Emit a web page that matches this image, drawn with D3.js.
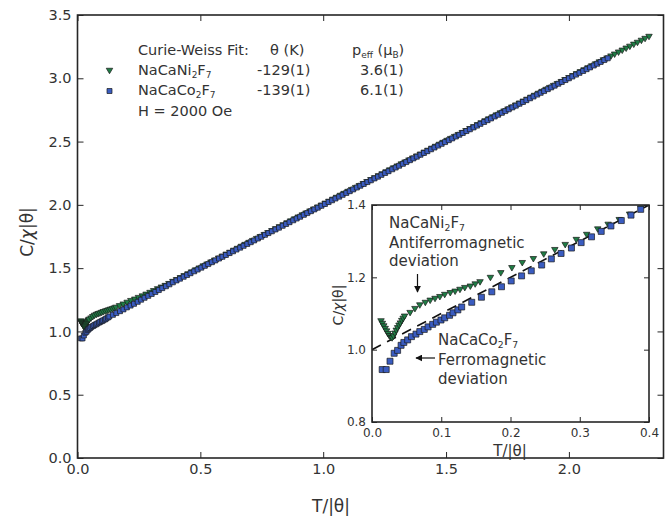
<!DOCTYPE html>
<html>
<head>
<meta charset="utf-8">
<script src="https://cdn.jsdelivr.net/npm/d3@7"></script>
<style>
  body { margin: 0; background: #fff; }
  svg text { font-family: "DejaVu Sans", sans-serif; fill: #333; }
</style>
</head>
<body>
<svg id="chart" width="671" height="521"></svg>
<script>
// NaCaNi2F7: reduced inverse susceptibility C/(chi|theta|) against T/|theta|
const niData = [
  [0.013,1.078],[0.015,1.071],[0.017,1.064],[0.019,1.057],[0.021,1.050],[0.023,1.043],[0.025,1.037],[0.027,1.032],
  [0.029,1.031],[0.031,1.036],[0.033,1.044],[0.035,1.052],[0.037,1.059],[0.039,1.066],[0.041,1.072],[0.043,1.079],
  [0.045,1.085],[0.047,1.091],[0.055,1.101],[0.062,1.112],[0.069,1.122],[0.077,1.129],[0.084,1.135],[0.091,1.140],
  [0.098,1.145],[0.105,1.151],[0.113,1.156],[0.120,1.160],[0.127,1.165],[0.134,1.170],[0.142,1.174],[0.149,1.180],
  [0.156,1.186],[0.171,1.198],[0.186,1.211],[0.202,1.225],[0.217,1.239],[0.233,1.250],[0.248,1.263],[0.264,1.275],
  [0.279,1.289],[0.295,1.303],[0.310,1.317],[0.326,1.332],[0.341,1.345],[0.357,1.358],[0.372,1.373],[0.388,1.390],
  [0.403,1.404],[0.419,1.420],[0.434,1.435],[0.450,1.450],[0.465,1.465],[0.481,1.481],[0.496,1.496],[0.512,1.512],
  [0.527,1.527],[0.543,1.543],[0.558,1.558],[0.574,1.574],[0.589,1.589],[0.605,1.605],[0.620,1.620],[0.636,1.636],
  [0.651,1.651],[0.667,1.667],[0.682,1.682],[0.698,1.698],[0.713,1.713],[0.729,1.729],[0.744,1.744],[0.760,1.760],
  [0.775,1.775],[0.791,1.791],[0.806,1.806],[0.822,1.822],[0.837,1.837],[0.853,1.853],[0.868,1.868],[0.884,1.884],
  [0.899,1.899],[0.915,1.915],[0.930,1.930],[0.946,1.946],[0.961,1.961],[0.977,1.977],[0.992,1.992],[1.008,2.008],
  [1.023,2.023],[1.039,2.039],[1.054,2.054],[1.070,2.070],[1.085,2.085],[1.101,2.101],[1.116,2.116],[1.132,2.132],
  [1.147,2.147],[1.163,2.163],[1.178,2.178],[1.194,2.194],[1.209,2.209],[1.225,2.225],[1.240,2.240],[1.256,2.256],
  [1.271,2.271],[1.287,2.287],[1.302,2.302],[1.318,2.318],[1.333,2.333],[1.349,2.349],[1.364,2.364],[1.380,2.380],
  [1.395,2.395],[1.411,2.411],[1.426,2.426],[1.442,2.442],[1.457,2.457],[1.473,2.473],[1.488,2.488],[1.504,2.504],
  [1.519,2.519],[1.535,2.535],[1.550,2.550],[1.566,2.566],[1.581,2.581],[1.597,2.597],[1.612,2.612],[1.628,2.628],
  [1.643,2.643],[1.659,2.659],[1.674,2.674],[1.690,2.690],[1.705,2.705],[1.721,2.721],[1.736,2.736],[1.752,2.752],
  [1.767,2.767],[1.783,2.783],[1.798,2.798],[1.814,2.814],[1.829,2.829],[1.845,2.845],[1.860,2.860],[1.876,2.876],
  [1.891,2.891],[1.907,2.907],[1.922,2.922],[1.938,2.938],[1.953,2.953],[1.969,2.969],[1.984,2.984],[2.000,3.000],
  [2.016,3.016],[2.031,3.031],[2.047,3.047],[2.062,3.062],[2.078,3.078],[2.093,3.093],[2.109,3.109],[2.124,3.124],
  [2.140,3.140],[2.155,3.155],[2.171,3.171],[2.186,3.186],[2.202,3.202],[2.217,3.217],[2.233,3.233],[2.248,3.248],
  [2.264,3.264],[2.279,3.279],[2.295,3.295],[2.310,3.310],[2.326,3.326]
];

// NaCaCo2F7
const coData = [
  [0.0147,0.945],[0.0205,0.945],[0.026,0.968],[0.032,0.990],[0.037,0.998],[0.042,1.012],[0.046,1.020],[0.0515,1.027],
  [0.057,1.036],[0.0635,1.043],[0.069,1.050],[0.0755,1.056],[0.081,1.063],[0.0876,1.070],[0.093,1.076],[0.0996,1.082],
  [0.105,1.088],[0.112,1.095],[0.117,1.102],[0.124,1.110],[0.1295,1.118],
  [0.144,1.131],[0.158,1.145],[0.173,1.160],[0.187,1.174],[0.201,1.190],[0.216,1.204],[0.230,1.218],[0.245,1.234],
  [0.259,1.251],[0.273,1.266],[0.288,1.281],[0.302,1.296],[0.317,1.312],[0.331,1.327],[0.345,1.342],[0.360,1.357],
  [0.374,1.372],[0.388,1.388],[0.403,1.403],[0.417,1.417],[0.432,1.432],[0.446,1.446],[0.460,1.460],[0.475,1.475],
  [0.489,1.489],[0.504,1.504],[0.518,1.518],[0.532,1.532],[0.547,1.547],[0.561,1.561],[0.576,1.576],[0.590,1.590],
  [0.604,1.604],[0.619,1.619],[0.633,1.633],[0.647,1.647],[0.662,1.662],[0.676,1.676],[0.691,1.691],[0.705,1.705],
  [0.719,1.719],[0.734,1.734],[0.748,1.748],[0.763,1.763],[0.777,1.777],[0.791,1.791],[0.806,1.806],[0.820,1.820],
  [0.835,1.835],[0.849,1.849],[0.863,1.863],[0.878,1.878],[0.892,1.892],[0.906,1.906],[0.921,1.921],[0.935,1.935],
  [0.950,1.950],[0.964,1.964],[0.978,1.978],[0.993,1.993],[1.007,2.007],[1.022,2.022],[1.036,2.036],[1.050,2.050],
  [1.065,2.065],[1.079,2.079],[1.094,2.094],[1.108,2.108],[1.122,2.122],[1.137,2.137],[1.151,2.151],[1.165,2.165],
  [1.180,2.180],[1.194,2.194],[1.209,2.209],[1.223,2.223],[1.237,2.237],[1.252,2.252],[1.266,2.266],[1.281,2.281],
  [1.295,2.295],[1.309,2.309],[1.324,2.324],[1.338,2.338],[1.353,2.353],[1.367,2.367],[1.381,2.381],[1.396,2.396],
  [1.410,2.410],[1.424,2.424],[1.439,2.439],[1.453,2.453],[1.468,2.468],[1.482,2.482],[1.496,2.496],[1.511,2.511],
  [1.525,2.525],[1.540,2.540],[1.554,2.554],[1.568,2.568],[1.583,2.583],[1.597,2.597],[1.612,2.612],[1.626,2.626],
  [1.640,2.640],[1.655,2.655],[1.669,2.669],[1.683,2.683],[1.698,2.698],[1.712,2.712],[1.727,2.727],[1.741,2.741],
  [1.755,2.755],[1.770,2.770],[1.784,2.784],[1.799,2.799],[1.813,2.813],[1.827,2.827],[1.842,2.842],[1.856,2.856],
  [1.871,2.871],[1.885,2.885],[1.899,2.899],[1.914,2.914],[1.928,2.928],[1.942,2.942],[1.957,2.957],[1.971,2.971],
  [1.986,2.986],[2.000,3.000],[2.014,3.014],[2.029,3.029],[2.043,3.043],[2.058,3.058],[2.072,3.072],[2.086,3.086],
  [2.101,3.101],[2.115,3.115],[2.129,3.129],[2.144,3.144],[2.158,3.158]
];

// Curie-Weiss law C/(chi|theta|) = T/|theta| + 1, drawn as a dashed guide in the inset
const cwFit = [[0, 1.0], [0.4, 1.4]];

const mainXTicks = [0, 0.5, 1.0, 1.5, 2.0];
const mainYTicks = [0, 0.5, 1.0, 1.5, 2.0, 2.5, 3.0, 3.5];
const insetXTicks = [0, 0.1, 0.2, 0.3, 0.4];
const insetYTicks = [0.8, 1.0, 1.2, 1.4];

const fitThetas = ["-129(1)", "-139(1)"];
const fitMoments = ["3.6(1)", "6.1(1)"];

const NI_FILL = "#1f7d45", CO_FILL = "#3a5cc0", EDGE = "#1a1a1a", INK = "#262626";

const svg = d3.select("#chart");

const x = d3.scaleLinear().domain([0, 2.385]).range([77.5, 663.5]);
const y = d3.scaleLinear().domain([0, 3.5]).range([458, 15]);
const xi = d3.scaleLinear().domain([0, 0.4]).range([372, 649]);
const yi = d3.scaleLinear().domain([0.8, 1.4]).range([422, 205]);

const defs = svg.append("defs");
defs.append("clipPath").attr("id", "clipMain").append("rect")
  .attr("x", x(0)).attr("y", y(3.5)).attr("width", x(2.385) - x(0)).attr("height", y(0) - y(3.5));
defs.append("clipPath").attr("id", "clipInset").append("rect")
  .attr("x", xi(0)).attr("y", yi(1.4)).attr("width", xi(0.4) - xi(0)).attr("height", yi(0.8) - yi(1.4));
defs.append("marker").attr("id", "head").attr("viewBox", "0 0 10 10")
  .attr("refX", 9).attr("refY", 5).attr("markerWidth", 7).attr("markerHeight", 7)
  .attr("markerUnits", "userSpaceOnUse").attr("orient", "auto")
  .append("path").attr("d", "M0,0L10,5L0,10Z").attr("fill", "#111");

// marker shapes: down-pointing triangle and square
const tri = (w, h) => `M${-w / 2},${-h / 2}L${w / 2},${-h / 2}L0,${h / 2}Z`;
const sq = s => `M${-s / 2},${-s / 2}h${s}v${s}h${-s}Z`;

function drawSeries(g, data, sx, sy, shape, fill) {
  g.selectAll(null).data(data).enter().append("path")
    .attr("d", shape)
    .attr("transform", d => `translate(${sx(d[0])},${sy(d[1])})`)
    .attr("fill", fill).attr("stroke", EDGE).attr("stroke-width", 0.7);
}

function frame(g, sx, sy, xt, yt, tick, fs, fmtX, fmtY) {
  const [x0, x1] = sx.range(), [y0, y1] = sy.range();
  const bottom = g.append("g").attr("transform", `translate(0,${y0})`)
    .call(d3.axisBottom(sx).tickValues(xt).tickSize(-tick).tickPadding(6).tickFormat(fmtX));
  const left = g.append("g").attr("transform", `translate(${x0},0)`)
    .call(d3.axisLeft(sy).tickValues(yt).tickSize(-tick).tickPadding(6).tickFormat(fmtY));
  const top = g.append("g").attr("transform", `translate(0,${y1})`)
    .call(d3.axisTop(sx).tickValues(xt).tickSize(-tick).tickFormat(""));
  const right = g.append("g").attr("transform", `translate(${x1},0)`)
    .call(d3.axisRight(sy).tickValues(yt).tickSize(-tick).tickFormat(""));
  [bottom, left, top, right].forEach(a => {
    a.select(".domain").remove();
    a.attr("font-family", null).attr("font-size", null);
    a.selectAll(".tick line").attr("stroke", INK).attr("stroke-width", 1);
    a.selectAll(".tick text").attr("fill", "#333").style("font-size", fs + "px");
  });
  g.append("rect").attr("x", x0).attr("y", y1).attr("width", x1 - x0).attr("height", y0 - y1)
    .attr("fill", "none").attr("stroke", INK).attr("stroke-width", 1.6);
}

// text with chemical subscripts: parts are [string, isSub]
function richText(g, px, py, parts, fs, anchor) {
  const t = g.append("text").attr("x", px).attr("y", py).style("font-size", fs + "px")
    .attr("text-anchor", anchor || "start");
  let shifted = false;
  parts.forEach(([s, sub]) => {
    const span = t.append("tspan").text(s);
    if (sub && !shifted) { span.attr("dy", fs * 0.2).style("font-size", (fs * 0.62) + "px"); shifted = true; }
    else if (sub) { span.style("font-size", (fs * 0.62) + "px"); }
    else if (!sub && shifted) { span.attr("dy", -fs * 0.2); shifted = false; }
  });
  return t;
}

const fmt1 = d3.format(".1f");

// ---------- main panel ----------
const main = svg.append("g");
const mainPts = main.append("g").attr("clip-path", "url(#clipMain)");
drawSeries(mainPts, niData, x, y, tri(6.5, 5.5), NI_FILL);
drawSeries(mainPts, coData, x, y, sq(5), CO_FILL);
frame(main, x, y, mainXTicks, mainYTicks, 6, 14.5, fmt1, fmt1);

// axis titles
const yl = main.append("text").attr("transform", "translate(33,232) rotate(-90)")
  .attr("text-anchor", "middle").style("font-size", "17px");
yl.append("tspan").text("C/");
yl.append("tspan").text("χ").style("font-style", "italic");
yl.append("tspan").text("|θ|");
main.append("text").attr("x", 331).attr("y", 512).attr("text-anchor", "middle")
  .style("font-size", "17px").text("T/|θ|");

// fit table
const leg = svg.append("g");
const FS = 14.5;
leg.append("text").attr("x", 138).attr("y", 55).style("font-size", FS + "px").text("Curie-Weiss Fit:");
leg.append("text").attr("x", 270).attr("y", 55).style("font-size", FS + "px").text("θ (K)");
richText(leg, 352, 55, [["p"], ["eff", true], [" (μ"], ["B", true], [")"]], FS);
richText(leg, 138, 75, [["NaCaNi"], ["2", true], ["F"], ["7", true]], FS);
richText(leg, 138, 95, [["NaCaCo"], ["2", true], ["F"], ["7", true]], FS);
leg.append("text").attr("x", 138).attr("y", 116).style("font-size", FS + "px").text("H = 2000 Oe");
fitThetas.forEach((s, i) => leg.append("text").attr("x", 257).attr("y", 75 + i * 20).style("font-size", FS + "px").text(s));
fitMoments.forEach((s, i) => leg.append("text").attr("x", 360).attr("y", 75 + i * 20).style("font-size", FS + "px").text(s));
leg.append("path").attr("d", tri(6.5, 5.5)).attr("transform", "translate(109.5,71)")
  .attr("fill", NI_FILL).attr("stroke", EDGE).attr("stroke-width", 0.7);
leg.append("path").attr("d", sq(5)).attr("transform", "translate(109.5,91)")
  .attr("fill", CO_FILL).attr("stroke", EDGE).attr("stroke-width", 0.7);

// ---------- inset ----------
const ins = svg.append("g");
ins.append("rect").attr("x", xi(0)).attr("y", yi(1.4)).attr("width", xi(0.4) - xi(0))
  .attr("height", yi(0.8) - yi(1.4)).attr("fill", "#fff");
const insPts = ins.append("g").attr("clip-path", "url(#clipInset)");
insPts.append("path").datum(cwFit)
  .attr("d", d3.line().x(d => xi(d[0])).y(d => yi(d[1])))
  .attr("fill", "none").attr("stroke", "#111").attr("stroke-width", 1.6).attr("stroke-dasharray", "10,7");
const inNi = niData.filter(d => d[0] <= 0.4), inCo = coData.filter(d => d[0] <= 0.4);
drawSeries(insPts, inNi, xi, yi, tri(6.5, 5.5), NI_FILL);
drawSeries(insPts, inCo, xi, yi, sq(6), CO_FILL);
frame(ins, xi, yi, insetXTicks, insetYTicks, 5, 12, d3.format(".1f"), d3.format(".1f"));

const iyl = ins.append("text").attr("transform", "translate(343,305) rotate(-90)")
  .attr("text-anchor", "middle").style("font-size", "14px");
iyl.append("tspan").text("C/");
iyl.append("tspan").text("χ").style("font-style", "italic");
iyl.append("tspan").text("|θ|");
ins.append("text").attr("x", 510).attr("y", 456).attr("text-anchor", "middle")
  .style("font-size", "15px").text("T/|θ|");

// annotations
richText(ins, 389, 228, [["NaCaNi"], ["2", true], ["F"], ["7", true]], 15);
ins.append("text").attr("x", 389).attr("y", 248).style("font-size", "15px").text("Antiferromagnetic");
ins.append("text").attr("x", 389).attr("y", 266).style("font-size", "15px").text("deviation");
richText(ins, 438, 345, [["NaCaCo"], ["2", true], ["F"], ["7", true]], 15);
ins.append("text").attr("x", 438).attr("y", 365).style("font-size", "15px").text("Ferromagnetic");
ins.append("text").attr("x", 438).attr("y", 384).style("font-size", "15px").text("deviation");
ins.append("line").attr("x1", 417.5).attr("y1", 274).attr("x2", 417.5).attr("y2", 292)
  .attr("stroke", "#111").attr("stroke-width", 1.2).attr("marker-end", "url(#head)");
ins.append("line").attr("x1", 435).attr("y1", 358).attr("x2", 416).attr("y2", 358)
  .attr("stroke", "#111").attr("stroke-width", 1.2).attr("marker-end", "url(#head)");
</script>
</body>
</html>
